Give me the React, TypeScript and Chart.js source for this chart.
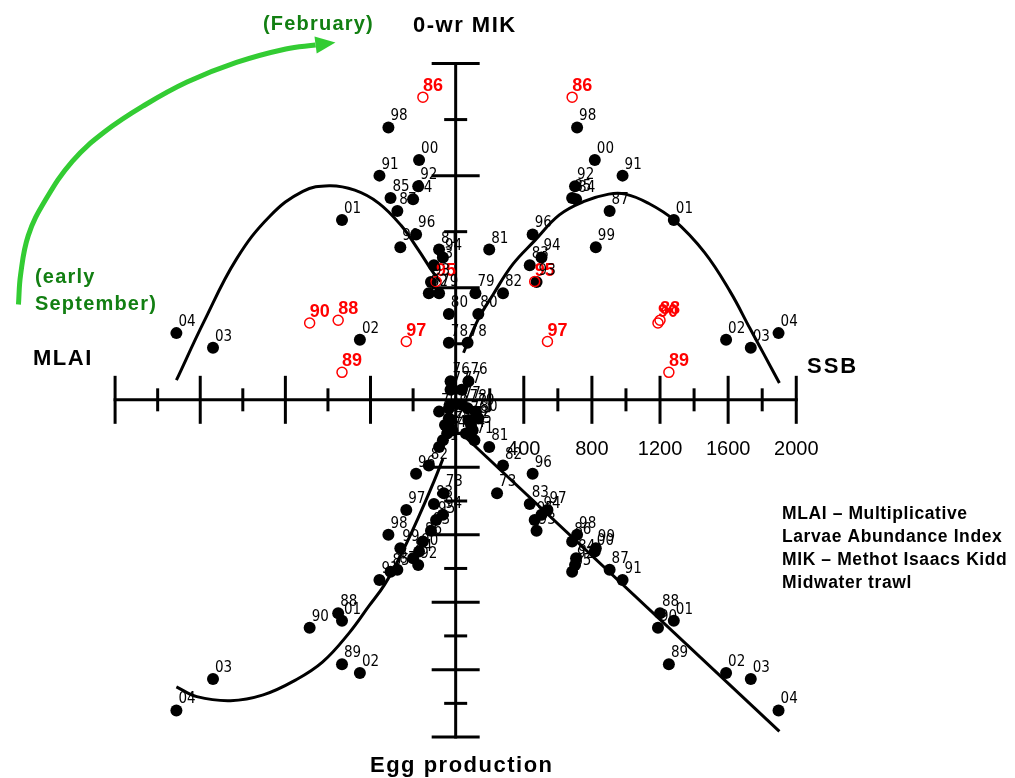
import React, { useEffect, useRef } from 'react';
import { Chart, registerables } from 'chart.js';
Chart.register(...registerables);

// ---- per-year data (MLAI index, SSB, 0-wr MIK index, Egg production index) ----
const years = ['71', '72', '73', '74', '75', '76', '77', '78', '79', '80', '81', '82', '83', '84', '85', '86', '87', '88', '89', '90', '91', '92', '93', '94', '95', '96', '97', '98', '99', '00', '01', '02', '03', '04'];
const mlai = [0.30, 0.25, 0.28, 0.20, 0.08, 0.12, 0.12, 0.16, 0.39, 0.16, 0.39, 0.63, 0.51, 1.00, 1.53, 0.77, 1.37, 2.76, 2.67, 3.43, 1.79, 0.88, 0.58, 0.30, 0.46, 0.93, 1.16, 1.58, 1.30, 0.86, 2.67, 2.25, 5.70, 6.56];
const ssb = [110, 90, 243, 60, 100, 75, 35, 70, 116, 133, 197, 278, 435, 707, 684, 684, 904, 1200, 1252, 1188, 980, 701, 475, 504, 464, 452, 539, 713, 823, 817, 1281, 1588, 1733, 1896];
const mik = [null, null, null, null, null, 0.33, 0.18, 1.02, 1.90, 1.53, 2.68, 1.90, 2.40, 3.58, 3.60, 5.40, 3.37, 1.42, 0.49, 1.37, 4.00, 3.81, 2.10, 2.54, 2.11, 2.95, 1.04, 4.86, 2.72, 4.28, 3.21, 1.07, 0.93, 1.19];
const egg = [1.20, 0.75, 2.77, 1.00, 0.90, 0.60, 0.15, 0.25, 0.35, 0.55, 1.40, 1.95, 3.09, 4.70, 5.10, 4.20, 5.04, 6.33, 7.84, 6.76, 5.34, 4.90, 3.88, 3.41, 3.56, 2.19, 3.27, 4.00, 4.40, 4.50, 6.55, 8.10, 8.28, 9.21];
const redYears = ['86', '88', '89', '90', '95', '97'];

// ---- fitted curves ----
const curveMlaiMik_x = [6.56, 5.91, 5.15, 4.36, 3.59, 2.97, 2.37, 1.81, 1.28, 0.88, 0.51, 0.35];
const curveMlaiMik_y = [0.35, 1.40, 2.51, 3.28, 3.72, 3.82, 3.74, 3.51, 3.11, 2.68, 2.25, 2.11];
const curveSsbMik_x = [46, 133, 220, 336, 464, 609, 754, 899, 997, 1130, 1281, 1461, 1612, 1727, 1809, 1901];
const curveSsbMik_y = [0.84, 1.44, 1.88, 2.42, 2.84, 3.30, 3.54, 3.67, 3.67, 3.51, 3.21, 2.63, 1.93, 1.28, 0.82, 0.30];
const curveMlaiEgg_x = [6.56, 6.08, 5.29, 4.52, 3.76, 3.13, 2.50, 2.04, 1.67, 1.28, 0.88, 0.51, 0.30];
const curveMlaiEgg_y = [8.51, 8.80, 8.92, 8.75, 8.31, 7.78, 6.91, 6.12, 5.48, 4.58, 3.50, 2.42, 1.75];
const lineSsbEgg_x = [58, 1901];
const lineSsbEgg_y = [1.11, 9.83];

// green season arrow (in MLAI / MIK units)
const arrow_x = [10.27, 10.22, 10.04, 9.64, 9.00, 8.23, 7.30, 6.31, 5.15, 3.99, 3.29];
const arrow_y = [1.70, 2.23, 2.93, 3.56, 4.26, 4.79, 5.26, 5.67, 6.02, 6.26, 6.33];

// ---- axis ticks ----
const ssbTicks = [200, 400, 600, 800, 1000, 1200, 1400, 1600, 1800, 2000];
const ssbTickLabels = ['400', '800', '1200', '1600', '2000'];
const mlaiTicks = [1, 2, 3, 4, 5, 6, 7, 8];
const mikTicks = [1, 2, 3, 4, 5, 6];
const eggTicks = [1, 2, 3, 4, 5, 6, 7, 8, 9, 10];

const legendLines = ['MLAI \u2013 Multiplicative', 'Larvae Abundance Index', 'MIK \u2013 Methot Isaacs Kidd', 'Midwater trawl'];

// ---- layout ----
const W = 1015;
const H = 778;
const OX = 455;
const OY = 400;
const PX_SSB = 69 / 400;
const PX_MLAI = 43.125;
const PX_MIK = 57;
const PX_EGG = 34.3;

function pts(xs: (number | null)[], ys: (number | null)[], filter: (i: number) => boolean) {
  const out: any[] = [];
  for (let i = 0; i < years.length; i++) {
    if (xs[i] == null || ys[i] == null || !filter(i)) continue;
    out.push({ x: xs[i], y: ys[i], t: years[i] });
  }
  return out;
}
const zip = (xs: number[], ys: number[]) => xs.map((x, i) => ({ x, y: ys[i] }));

const isRed = (i: number) => redYears.includes(years[i]);

export default function App() {
  const ref = useRef<HTMLCanvasElement | null>(null);
  useEffect(() => {
    if (!ref.current) return;
    const black = { backgroundColor: '#000', borderColor: '#000', borderWidth: 0, pointRadius: 6, showLine: false, lbl: 'b' };
    const red = { backgroundColor: 'rgba(255,255,255,0)', borderColor: '#ff0000', pointBorderWidth: 1.5, borderWidth: 1.5, pointRadius: 5, showLine: false, lbl: 'r' };
    const curve = { borderColor: '#000', borderWidth: 3, pointRadius: 0, showLine: true, tension: 0.4, fill: false };

    const datasets: any[] = [
      { ...red, data: pts(mlai, mik, (i) => isRed(i)), xAxisID: 'xM', yAxisID: 'yK' },
      { ...red, data: pts(ssb, mik, (i) => isRed(i)), xAxisID: 'xS', yAxisID: 'yK' },
      { ...black, data: pts(mlai, mik, (i) => !isRed(i)), xAxisID: 'xM', yAxisID: 'yK' },
      { ...black, data: pts(ssb, mik, (i) => !isRed(i)), xAxisID: 'xS', yAxisID: 'yK' },
      { ...black, data: pts(mlai, egg, () => true), xAxisID: 'xM', yAxisID: 'yE' },
      { ...black, data: pts(ssb, egg, () => true), xAxisID: 'xS', yAxisID: 'yE' },
      { ...curve, data: zip(curveMlaiMik_x, curveMlaiMik_y), xAxisID: 'xM', yAxisID: 'yK' },
      { ...curve, data: zip(curveSsbMik_x, curveSsbMik_y), xAxisID: 'xS', yAxisID: 'yK' },
      { ...curve, data: zip(curveMlaiEgg_x, curveMlaiEgg_y), xAxisID: 'xM', yAxisID: 'yE' },
      { ...curve, tension: 0, data: zip(lineSsbEgg_x, lineSsbEgg_y), xAxisID: 'xS', yAxisID: 'yE' },
      { ...curve, borderColor: '#33cc33', borderWidth: 5, data: zip(arrow_x, arrow_y), xAxisID: 'xM', yAxisID: 'yK', arrow: true },
    ];

    const axesPlugin = {
      id: 'crossAxes',
      beforeDatasetsDraw(chart: any) {
        const { ctx } = chart;
        const { xS, xM, yK, yE } = chart.scales;
        const ox = xS.getPixelForValue(0);
        const oy = yK.getPixelForValue(0);
        ctx.save();
        ctx.strokeStyle = '#000';
        ctx.lineCap = 'butt';
        ctx.lineWidth = 3;
        ctx.beginPath();
        ctx.moveTo(xM.getPixelForValue(mlaiTicks[mlaiTicks.length - 1]) - 1.5, oy);
        ctx.lineTo(xS.getPixelForValue(ssbTicks[ssbTicks.length - 1]) + 1.5, oy);
        ctx.moveTo(ox, yK.getPixelForValue(mikTicks[mikTicks.length - 1]) - 1.5);
        ctx.lineTo(ox, yE.getPixelForValue(eggTicks[eggTicks.length - 1]) + 1.5);
        ctx.stroke();
        ctx.lineWidth = 3;
        const vt = (px: number, major: boolean) => {
          const h = major ? 24 : 11.5;
          ctx.beginPath(); ctx.moveTo(px, oy - h); ctx.lineTo(px, oy + h); ctx.stroke();
        };
        const ht = (py: number, major: boolean) => {
          const h = major ? 24 : 11.5;
          ctx.beginPath(); ctx.moveTo(ox - h, py); ctx.lineTo(ox + h, py); ctx.stroke();
        };
        mlaiTicks.forEach((v) => vt(xM.getPixelForValue(v), v % 2 === 0));
        ssbTicks.forEach((v) => vt(xS.getPixelForValue(v), v % 400 === 0));
        mikTicks.forEach((v) => ht(yK.getPixelForValue(v), v % 2 === 0));
        eggTicks.forEach((v) => ht(yE.getPixelForValue(v), v % 2 === 0));
        ctx.restore();
      },
      afterDatasetsDraw(chart: any) {
        const { ctx } = chart;
        const { xS, yK } = chart.scales;
        ctx.save();
        chart.data.datasets.forEach((ds: any, di: number) => {
          const meta = chart.getDatasetMeta(di);
          if (ds.lbl) {
            ctx.textBaseline = 'alphabetic';
            ctx.textAlign = 'left';
            if (ds.lbl === 'b') {
              ctx.font = '15px "DejaVu Sans Condensed", "DejaVu Sans"';
              ctx.fillStyle = '#000';
            } else {
              ctx.font = 'bold 18px "Liberation Sans", Arial';
              ctx.fillStyle = '#ff0000';
            }
            meta.data.forEach((el: any, j: number) => {
              const t = ds.data[j].t;
              if (ds.lbl === 'b') ctx.fillText(t, el.x + 2, el.y - 7);
              else ctx.fillText(t, el.x, el.y - 6);
            });
          }
          if (ds.arrow) {
            const n = meta.data.length;
            const a = meta.data[n - 2];
            const b = meta.data[n - 1];
            let dx = b.x - a.x;
            let dy = b.y - a.y;
            const L = Math.hypot(dx, dy);
            dx /= L; dy /= L;
            const len = 20;
            const hw = 8.5;
            ctx.fillStyle = '#33cc33';
            ctx.beginPath();
            ctx.moveTo(b.x + dx * len, b.y + dy * len);
            ctx.lineTo(b.x - dy * hw, b.y + dx * hw);
            ctx.lineTo(b.x + dy * hw, b.y - dx * hw);
            ctx.closePath();
            ctx.fill();
          }
        });

        // SSB tick labels
        ctx.fillStyle = '#000';
        ctx.font = '20px "Liberation Sans", Arial';
        ctx.textAlign = 'center';
        ctx.textBaseline = 'alphabetic';
        ssbTickLabels.forEach((s) => {
          ctx.fillText(s, xS.getPixelForValue(Number(s)), yK.getPixelForValue(0) + 55);
        });

        const txt = (s: string, x: number, y: number, font: string, color: string, spacing: string, align: CanvasTextAlign = 'left') => {
          ctx.font = font;
          ctx.fillStyle = color;
          ctx.textAlign = align;
          (ctx as any).letterSpacing = spacing;
          ctx.fillText(s, x, y);
          (ctx as any).letterSpacing = '0px';
        };
        const titleFont = 'bold 22px "Liberation Sans", Arial';
        txt('0-wr MIK', 413, 32, titleFont, '#000', '1.5px');
        txt('MLAI', 33, 365, titleFont, '#000', '1.5px');
        txt('SSB', 807, 373, titleFont, '#000', '2px');
        txt('Egg production', 370, 772, titleFont, '#000', '1.5px');
        const green = '#127f12';
        const gFont = 'bold 20px "Liberation Sans", Arial';
        txt('(February)', 263, 30, gFont, green, '1.2px');
        txt('(early', 35, 283, gFont, green, '1.2px');
        txt('September)', 35, 310, gFont, green, '1.2px');
        legendLines.forEach((s, i) => {
          txt(s, 782, 519 + i * 23, 'bold 17.5px "Liberation Sans", Arial', '#000', '0.6px');
        });
        ctx.restore();
      },
    };

    const chart = new Chart(ref.current, {
      type: 'scatter',
      data: { datasets },
      options: {
        animation: false,
        responsive: false,
        devicePixelRatio: 1,
        events: [],
        layout: { padding: 0 },
        plugins: { legend: { display: false }, tooltip: { enabled: false }, title: { display: false } },
        scales: {
          xS: { type: 'linear', display: false, min: -OX / PX_SSB, max: (W - OX) / PX_SSB },
          xM: { type: 'linear', display: false, reverse: true, min: -(W - OX) / PX_MLAI, max: OX / PX_MLAI },
          yK: { type: 'linear', display: false, min: -(H - OY) / PX_MIK, max: OY / PX_MIK },
          yE: { type: 'linear', display: false, reverse: true, min: -OY / PX_EGG, max: (H - OY) / PX_EGG },
        },
      } as any,
      plugins: [axesPlugin],
    });
    return () => chart.destroy();
  }, []);

  return (
    <div style={{ position: 'absolute', left: 0, top: 0, width: W, height: H, background: '#fff' }}>
      <canvas ref={ref} width={W} height={H} style={{ display: 'block' }} />
    </div>
  );
}
